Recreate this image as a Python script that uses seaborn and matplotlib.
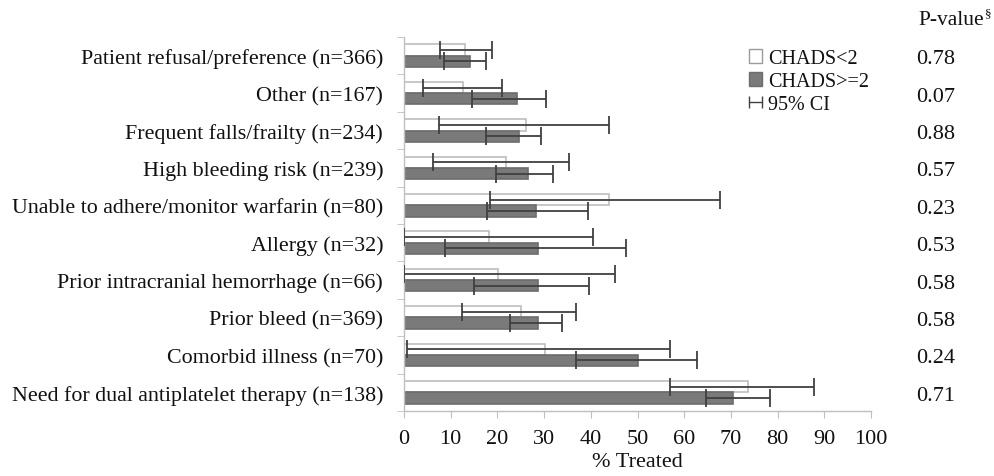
import matplotlib
matplotlib.use("Agg")
import matplotlib.pyplot as plt
import seaborn as sns
import pandas as pd
import numpy as np
from matplotlib.lines import Line2D
from matplotlib.patches import Patch
from matplotlib.legend_handler import HandlerLine2D

categories = [
    "Patient refusal/preference (n=366)",
    "Other (n=167)",
    "Frequent falls/frailty (n=234)",
    "High bleeding risk (n=239)",
    "Unable to adhere/monitor warfarin (n=80)",
    "Allergy (n=32)",
    "Prior intracranial hemorrhage (n=66)",
    "Prior bleed (n=369)",
    "Comorbid illness (n=70)",
    "Need for dual antiplatelet therapy (n=138)",
]
groups = ["CHADS<2", "CHADS>=2"]

low_val = [13.1, 12.6, 26.2, 21.9, 43.9, 18.3, 20.1, 25.1, 30.1, 73.7]
low_lo = [7.7, 4.1, 7.6, 6.2, 18.5, 0.0, 0.0, 12.4, 0.7, 57.0]
low_hi = [18.8, 21.0, 43.8, 35.3, 67.7, 40.5, 45.2, 36.8, 57.0, 87.8]

high_val = [14.1, 24.3, 24.7, 26.6, 28.2, 28.6, 28.6, 28.8, 50.1, 70.4]
high_lo = [8.5, 14.5, 17.6, 19.8, 17.8, 8.8, 15.0, 22.8, 36.8, 64.7]
high_hi = [17.6, 30.4, 29.3, 32.0, 39.5, 47.6, 39.6, 33.8, 62.7, 78.4]

p_values = ["0.78", "0.07", "0.88", "0.57", "0.23", "0.53", "0.58", "0.58", "0.24", "0.71"]

x_ticks = [0, 10, 20, 30, 40, 50, 60, 70, 80, 90, 100]

df = pd.DataFrame({
    "category": categories * 2,
    "group": [groups[0]] * len(categories) + [groups[1]] * len(categories),
    "value": low_val + high_val,
})

sns.set_style("white")
plt.rcParams["font.family"] = ["Liberation Serif", "DejaVu Serif"]
txt_c = "#111111"
plt.rcParams["text.color"] = txt_c
plt.rcParams["xtick.labelcolor"] = txt_c
plt.rcParams["ytick.labelcolor"] = txt_c
plt.rcParams["axes.labelcolor"] = txt_c

fig = plt.figure(figsize=(9.94, 4.77), dpi=100)
ax = fig.add_axes([0.4064, 0.1363, 0.4699, 0.7840])

light_fill, light_edge = "#ffffff", "#bdbdbd"
dark_fill, dark_edge = "#7a7a7a", "#6c6c6c"

sns.barplot(data=df, y="category", x="value", hue="group", order=categories,
            hue_order=groups, palette=[light_fill, dark_fill], width=0.6,
            orient="h", ax=ax, legend=False, errorbar=None, saturation=1)

err_color = "#404040"
cis = [(low_val, low_lo, low_hi, light_edge), (high_val, high_lo, high_hi, dark_edge)]
for cont, (vals, los, his, ec) in zip(ax.containers, cis):
    ys = []
    for bar in cont:
        bar.set_edgecolor(ec)
        bar.set_linewidth(1.2)
        ys.append(bar.get_y() + bar.get_height() / 2)
    vals = np.array(vals)
    xerr = [vals - np.array(los), np.array(his) - vals]
    ax.errorbar(vals, ys, xerr=xerr, fmt="none", ecolor=err_color,
                elinewidth=1.3, capsize=6.5, capthick=1.3, zorder=5)

fs = 16
ax.set_xlim(0, 100)
ax.set_ylim(len(categories) - 0.5, -0.5)
ax.set_xticks(x_ticks)
ax.set_xticklabels([str(t) for t in x_ticks])
ax.set_xlabel("% Treated", fontsize=fs, labelpad=3)
ax.set_ylabel("")

spine_c = "#bfbfbf"
for s in ["top", "right"]:
    ax.spines[s].set_visible(False)
for s in ["left", "bottom"]:
    ax.spines[s].set_color(spine_c)
    ax.spines[s].set_linewidth(1.0)

ax.tick_params(axis="x", which="major", length=5, color=spine_c, labelsize=fs,
               direction="out", pad=8, bottom=True)
ax.tick_params(axis="y", which="major", length=0, labelsize=15.8, pad=15)
ax.set_yticks(np.arange(-0.5, len(categories), 1.0), minor=True)
ax.tick_params(axis="y", which="minor", length=5, color=spine_c, direction="out", left=True)

for i, p in enumerate(p_values):
    ax.text(1.097, i + 0.08, p, transform=ax.get_yaxis_transform(), fontsize=fs,
            va="center", ha="left")
hdr = fig.text(0.9235, 0.958, "P-value", fontsize=15.5, va="center", ha="left")
ax.annotate("§", xy=(1.0, 0.78), xycoords=hdr, fontsize=9.5, va="center", ha="left",
            xytext=(1, 0), textcoords="offset points")

ci_handle = Line2D([], [], color=err_color, lw=1.0, marker="|", markersize=8,
                   markeredgewidth=1.0)
handles = [
    Patch(facecolor=light_fill, edgecolor="#9a9a9a", linewidth=1.0),
    Patch(facecolor=dark_fill, edgecolor=dark_edge, linewidth=1.0),
    ci_handle,
]
leg = ax.legend(handles, ["CHADS<2", "CHADS>=2", "95% CI"], loc="upper left",
                bbox_to_anchor=(0.712, 1.0), frameon=False, fontsize=14.5,
                handlelength=0.65, handleheight=0.65, handletextpad=0.3,
                labelspacing=0.2, numpoints=2, borderaxespad=0.2,
                handler_map={ci_handle: HandlerLine2D(marker_pad=0, numpoints=2)})

fig.savefig("out.png", dpi=100)
